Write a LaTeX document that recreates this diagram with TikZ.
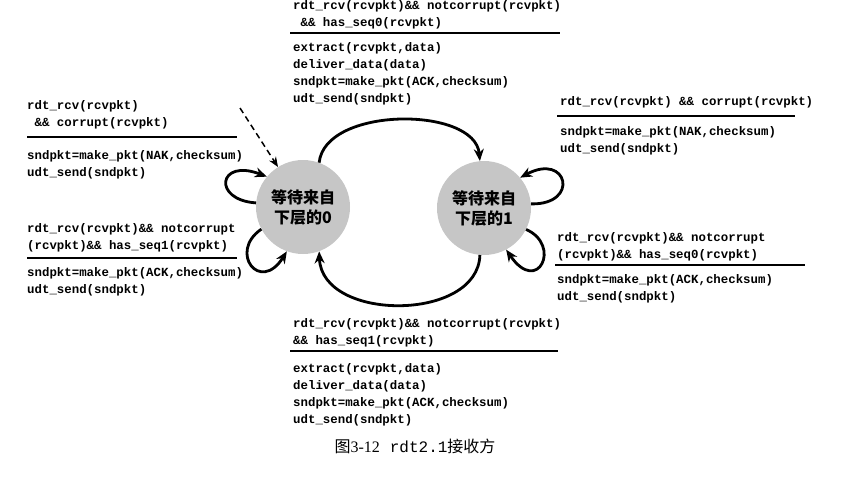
\documentclass[tikz,border=0pt]{standalone}
\usepackage{fontspec}
\setmainfont{Liberation Serif}
\setmonofont{Liberation Mono}
\newfontfamily\cjk{Noto Sans CJK SC}
\usetikzlibrary{positioning,arrows.meta}

\begin{document}
\begin{tikzpicture}[x=1pt, y=-1pt,
    state/.style={circle, fill=gray!45, minimum size=94pt, inner sep=0pt, align=center,
      font=\cjk\bfseries\fontsize{16}{20}\selectfont},
    cond/.style={anchor=north west, inner sep=0pt, align=left,
      font=\ttfamily\bfseries\fontsize{12.4}{17}\selectfont},
    trans/.style={line width=2.8pt, -{Stealth[length=12pt,width=10pt]}},
    bar/.style={line width=1.5pt}]
        \useasboundingbox (0,0) rectangle (854,477);

        % Estados do receptor
        \node[state] (wait0) at (303,207) {等待来自\\下层的0};
        \node[state] (wait1) at (484,208) {等待来自\\下层的1};

        % Rotulos das transicoes
        \node[cond] (topcond) at (293,0) {rdt\_rcv(rcvpkt)\&\& notcorrupt(rcvpkt)\\~\&\& has\_seq0(rcvpkt)};
        \node[cond] (topact) at (293,42) {extract(rcvpkt,data)\\deliver\_data(data)\\sndpkt=make\_pkt(ACK,checksum)\\udt\_send(sndpkt)};
        \draw[bar] (290,33) -- (560,33);

        \node[cond] (ltcond) at (27,100) {rdt\_rcv(rcvpkt)\\~\&\& corrupt(rcvpkt)};
        \node[cond] (ltact) at (27,150) {sndpkt=make\_pkt(NAK,checksum)\\udt\_send(sndpkt)};
        \draw[bar] (27,137) -- (237,137);

        \node[cond] (lbcond) at (27,223) {rdt\_rcv(rcvpkt)\&\& notcorrupt\\(rcvpkt)\&\& has\_seq1(rcvpkt)};
        \node[cond] (lbact) at (27,267) {sndpkt=make\_pkt(ACK,checksum)\\udt\_send(sndpkt)};
        \draw[bar] (27,258) -- (237,258);

        \node[cond] (rtcond) at (560,96) {rdt\_rcv(rcvpkt) \&\& corrupt(rcvpkt)};
        \node[cond] (rtact) at (560,126) {sndpkt=make\_pkt(NAK,checksum)\\udt\_send(sndpkt)};
        \draw[bar] (557,116) -- (795,116);

        \node[cond] (rbcond) at (557,232) {rdt\_rcv(rcvpkt)\&\& notcorrupt\\(rcvpkt)\&\& has\_seq0(rcvpkt)};
        \node[cond] (rbact) at (557,274) {sndpkt=make\_pkt(ACK,checksum)\\udt\_send(sndpkt)};
        \draw[bar] (555,265) -- (805,265);

        \node[cond] (botcond) at (293,318) {rdt\_rcv(rcvpkt)\&\& notcorrupt(rcvpkt)\\\&\& has\_seq1(rcvpkt)};
        \node[cond] (botact) at (293,363) {extract(rcvpkt,data)\\deliver\_data(data)\\sndpkt=make\_pkt(ACK,checksum)\\udt\_send(sndpkt)};
        \draw[bar] (290,351) -- (558,351);

        % Transicoes
        \coordinate (start) at (240,108);
        \draw[line width=1.5pt, dash pattern=on 6pt off 4pt, -{Stealth[length=10pt,width=8pt]}] (start) -- (wait0.122);
        \draw[trans] (wait0.70) .. controls (325,106) and (475,106) .. (wait1.95);
        \draw[trans] (wait1.265) .. controls (478,322) and (322,322) .. (wait0.290);
        \draw[trans] (wait0.175) .. controls (212,200) and (218,158) .. (wait0.140);
        \draw[trans] (wait0.208) .. controls (228,252) and (260,294) .. (wait0.250);
        \draw[trans] (wait1.5) .. controls (580,205) and (568,152) .. (wait1.40);
        \draw[trans] (wait1.333) .. controls (562,245) and (538,296) .. (wait1.298);

        % Legenda
        \node[font=\fontsize{16}{19}\selectfont] (caption) at (415,446) {{\cjk 图}3-12\hspace{10pt}{\ttfamily rdt2.1}{\cjk 接收方}};
    \end{tikzpicture}
\end{document}
